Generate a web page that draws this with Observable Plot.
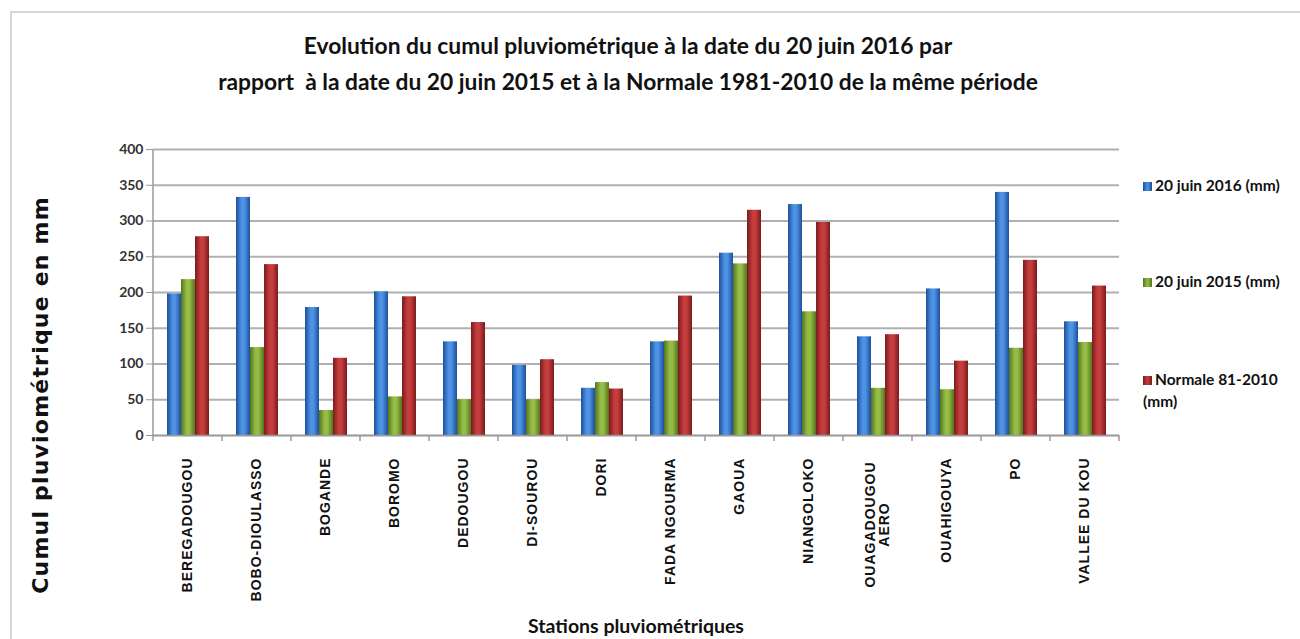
<!DOCTYPE html>
<html><head><meta charset="utf-8">
<script src="https://cdn.jsdelivr.net/npm/d3@7"></script>
<script src="https://cdn.jsdelivr.net/npm/@observablehq/plot@0.6"></script>
<style>
body{margin:0;background:#fff;}
#wrap{position:relative;width:1300px;height:639px;overflow:hidden;background:#fff;}
#frame{position:absolute;left:10px;top:11px;width:1400px;height:700px;border-left:2px solid #d6d6d6;border-top:2px solid #d6d6d6;}
#chart{position:absolute;left:0;top:0;}
#title{position:absolute;left:0;top:27px;width:1256px;text-align:center;font-family:Lato,sans-serif;font-weight:bold;font-size:22.8px;line-height:36px;color:#111;}
#ytitle{position:absolute;left:40px;top:395px;transform:translate(-50%,-50%) rotate(-90deg);white-space:nowrap;font-family:"DejaVu Sans",sans-serif;font-weight:bold;font-size:22px;letter-spacing:1.2px;color:#111;}
#xtitle{position:absolute;left:636px;top:625px;transform:translate(-50%,-50%);white-space:nowrap;font-family:Lato,sans-serif;font-weight:bold;font-size:19.5px;color:#111;}
#legend{position:absolute;left:1143px;top:0;font-family:Lato,sans-serif;font-weight:bold;font-size:15.5px;color:#111;}
.item{position:absolute;left:0;white-space:nowrap;line-height:22px;}
.sw{display:inline-block;width:9px;height:9px;margin-right:3px;vertical-align:0px;}
</style>
</head><body>
<div id="wrap">
  <div id="frame"></div>
  <div id="chart"></div>
  <div id="title">Evolution du cumul pluviométrique à la date du 20 juin 2016 par<br>rapport&nbsp; à la date du 20 juin 2015 et à la Normale 1981-2010 de la même période</div>
  <div id="ytitle">Cumul pluviométrique en mm</div>
  <div id="xtitle">Stations pluviométriques</div>
  <div id="legend"></div>
</div>
<script>
// ---- data ----
const stations = ["BEREGADOUGOU","BOBO-DIOULASSO","BOGANDE","BOROMO","DEDOUGOU","DI-SOUROU","DORI","FADA NGOURMA","GAOUA","NIANGOLOKO","OUAGADOUGOU AERO","OUAHIGOUYA","PO","VALLEE DU KOU"];
const juin2016 = [198, 333, 179, 201, 131, 98, 66, 131, 255, 323, 138, 205, 340, 159];
const juin2015 = [218, 123, 35, 54, 50, 50, 74, 132, 240, 173, 66, 64, 122, 130];
const normale  = [278, 239, 108, 194, 158, 106, 65, 195, 315, 298, 141, 104, 245, 209];
const seriesNames = ["20 juin 2016 (mm)", "20 juin 2015 (mm)", "Normale 81-2010 (mm)"];
const yTicks = [0, 50, 100, 150, 200, 250, 300, 350, 400];
const twoLineStation = "OUAGADOUGOU AERO";

// gradient colours (edge, centre) per series
const palette = [
  {id: "g2016", edge: "#1d4f9c", mid: "#4d92e3"},
  {id: "g2015", edge: "#55741f", mid: "#95bd45"},
  {id: "gnorm", edge: "#7a1b1c", mid: "#c63d3e"}
];

const seriesValues = [juin2016, juin2015, normale];
const rows = [];
stations.forEach((s, i) => seriesNames.forEach((n, j) => rows.push({station: s, series: n, value: seriesValues[j][i]})));

const font = "'Liberation Sans', Arial, sans-serif";
const fxLabelStyle = {anchor: "bottom", tickSize: 0, tickRotate: -90, fill: "#111", fontFamily: font, fontWeight: "bold", fontSize: 14, label: null};

const plot = Plot.plot({
  width: 1300,
  height: 639,
  marginLeft: 146,
  marginRight: 175,
  marginTop: 149,
  marginBottom: 204,
  style: {background: "transparent", fontFamily: font, overflow: "visible"},
  fx: {domain: stations, padding: 0, label: null, axis: null},
  x: {domain: seriesNames, paddingInner: 0, paddingOuter: 0.83, axis: null},
  y: {domain: [0, 400], label: null},
  color: {domain: seriesNames, range: palette.map(p => `url(#${p.id})`)},
  marks: [
    Plot.gridY(yTicks, {stroke: "#b0b0b0", strokeOpacity: 1, strokeWidth: 1.8}),
    Plot.axisY(yTicks, {tickSize: 7, tickPadding: 3, stroke: "#999", fill: "#333", fontFamily: "Lato, sans-serif", fontWeight: "bold", fontSize: 14, label: null}),
    Plot.axisFx({...fxLabelStyle, tickPadding: 22, tickFormat: d => d === twoLineStation ? "" : d}),
    Plot.axisFx({...fxLabelStyle, tickPadding: 89, textAnchor: "middle", lineAnchor: "middle",
      tickFormat: d => d === twoLineStation ? d.replace(" ", "\n") : ""}),
    Plot.barY(rows, {fx: "station", x: "series", y: "value", fill: "series"}),
    Plot.ruleY([0], {stroke: "#9a9a9a", strokeWidth: 1.5})
  ]
});

document.getElementById("chart").appendChild(plot);

const svg = d3.select(plot);
svg.selectAll("g[aria-label='fx-axis tick label'] text").style("letter-spacing", "1px");

// gradients for the 3D-like bars
const defs = svg.insert("defs", ":first-child");
palette.forEach(p => {
  const g = defs.append("linearGradient").attr("id", p.id).attr("x1", 0).attr("x2", 1).attr("y1", 0).attr("y2", 0);
  g.append("stop").attr("offset", "0%").attr("stop-color", p.edge);
  g.append("stop").attr("offset", "40%").attr("stop-color", p.mid);
  g.append("stop").attr("offset", "60%").attr("stop-color", p.mid);
  g.append("stop").attr("offset", "100%").attr("stop-color", p.edge);
});

// axis line and category boundary ticks derived from Plot's scales
const fxs = plot.scale("fx");
const ys = plot.scale("y");
if (fxs && ys) {
  const y0 = ys.apply(0), y1 = ys.apply(400);
  const left = fxs.apply(stations[0]);
  const step = fxs.bandwidth;
  const gAx = svg.append("g").attr("stroke", "#9a9a9a").attr("stroke-width", 1.5);
  gAx.append("line").attr("x1", left).attr("x2", left).attr("y1", y1).attr("y2", y0);
  stations.forEach(s => {
    const xs = fxs.apply(s) + step;
    gAx.append("line").attr("x1", xs).attr("x2", xs).attr("y1", y0).attr("y2", y0 + 6);
  });
  gAx.append("line").attr("x1", left).attr("x2", left).attr("y1", y0).attr("y2", y0 + 6);
}

// legend
const legendTops = [174, 270, 368];
const legend = d3.select("#legend");
seriesNames.forEach((n, i) => {
  const item = legend.append("div").attr("class", "item").style("top", legendTops[i] + "px");
  item.append("span").attr("class", "sw").style("background", `linear-gradient(90deg, ${palette[i].edge}, ${palette[i].mid}, ${palette[i].edge})`);
  if (i === 2) {
    item.append("span").html("Normale 81-2010<br>(mm)");
  } else {
    item.append("span").text(n);
  }
});
</script>
</body></html>
